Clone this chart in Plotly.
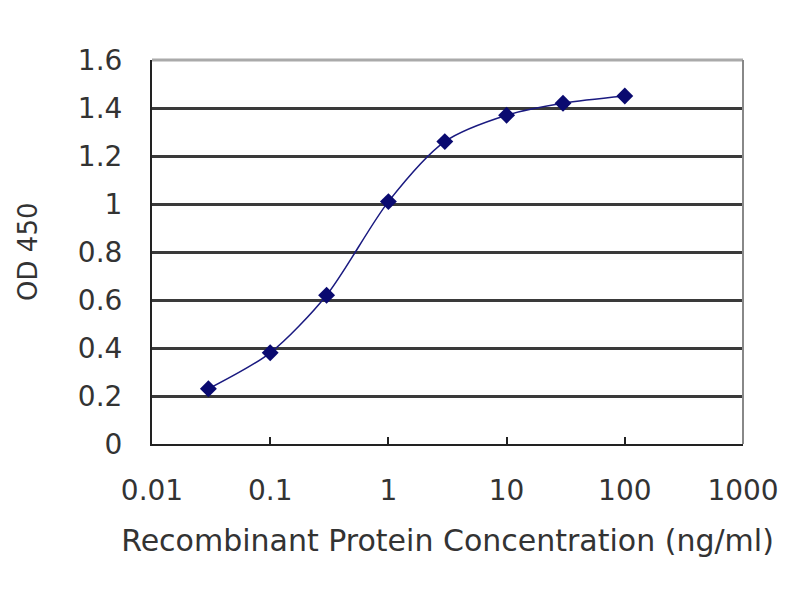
import plotly.graph_objects as go

concentration = [0.03, 0.1, 0.3, 1, 3, 10, 30, 100]
od450 = [0.23, 0.38, 0.62, 1.01, 1.26, 1.37, 1.42, 1.45]

x_tickvals = [0.01, 0.1, 1, 10, 100, 1000]
x_ticktext = ["0.01", "0.1", "1", "10", "100", "1000"]
y_tickvals = [0, 0.2, 0.4, 0.6, 0.8, 1.0, 1.2, 1.4, 1.6]
y_ticktext = ["0", "0.2", "0.4", "0.6", "0.8", "1", "1.2", "1.4", "1.6"]

font_family = "DejaVu Sans, sans-serif"

fig = go.Figure()
fig.add_trace(go.Scatter(
    x=concentration, y=od450, mode="lines+markers",
    line=dict(color="#1a1a80", width=1.5, shape="spline", smoothing=0.8),
    marker=dict(symbol="diamond", size=13, color="#0a0a70"),
    showlegend=False,
))

fig.update_layout(
    width=800, height=600,
    margin=dict(l=144, r=65, t=52, b=164),
    paper_bgcolor="white", plot_bgcolor="white",
    font=dict(family=font_family, color="#333333", size=28),
    xaxis=dict(
        type="log", range=[-2, 3],
        tickvals=x_tickvals, ticktext=x_ticktext,
        showgrid=False, zeroline=False,
        showline=True, linecolor="#222222", linewidth=2,
        ticks="inside", ticklen=7, tickcolor="#222222", tickwidth=2,
        ticklabelstandoff=20,
        tickfont=dict(size=28, color="#333333"),
        title=dict(text="Recombinant Protein Concentration (ng/ml)",
                   font=dict(size=30, color="#333333"), standoff=24),
    ),
    yaxis=dict(
        range=[0, 1.6],
        tickvals=y_tickvals, ticktext=y_ticktext,
        showgrid=True, gridcolor="#3a3a3a", gridwidth=2.5,
        zeroline=False,
        showline=True, linecolor="#222222", linewidth=2,
        ticks="", ticklabelstandoff=22,
        tickfont=dict(size=28, color="#333333"),
    ),
    annotations=[
        dict(text="OD 450", xref="paper", yref="paper", x=-0.21, y=0.5,
             xanchor="center", yanchor="middle", textangle=-90, showarrow=False,
             font=dict(size=26, color="#333333")),
    ],
    shapes=[
        dict(type="line", xref="paper", yref="paper", x0=0, x1=1, y0=1, y1=1,
             line=dict(color="#aaaaaa", width=3)),
        dict(type="line", xref="paper", yref="paper", x0=1, x1=1, y0=0, y1=1,
             line=dict(color="#888888", width=2)),
    ],
)

fig.write_html("out.html")
